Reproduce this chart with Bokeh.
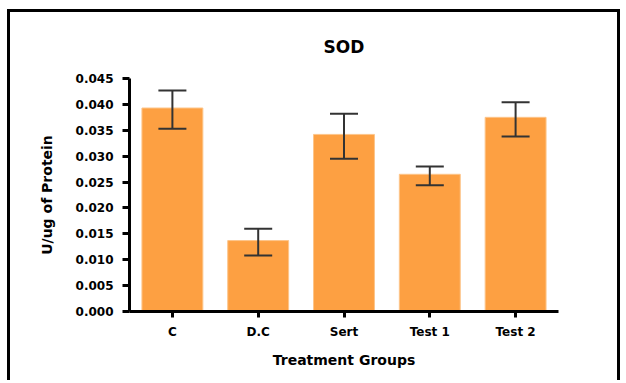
from bokeh.plotting import figure
from bokeh.models import (ColumnDataSource, FactorRange, FixedTicker,
                          NumeralTickFormatter, Whisker, TeeHead)
from bokeh.embed import file_html
from bokeh.resources import INLINE

# ---- data ----
groups = ["C", "D.C", "Sert", "Test 1", "Test 2"]
means = [0.0393, 0.0137, 0.0342, 0.0265, 0.0375]
err_upper = [0.0427, 0.0160, 0.0382, 0.0280, 0.0404]
err_lower = [0.0353, 0.0108, 0.0295, 0.0244, 0.0338]
y_ticks = [0.000, 0.005, 0.010, 0.015, 0.020, 0.025, 0.030, 0.035, 0.040, 0.045]

title_text = "SOD"
x_label = "Treatment Groups"
y_label = "U/ug of Protein"

FONT = "DejaVu Sans"
BAR = "#FDA042"

source = ColumnDataSource(dict(groups=groups, means=means,
                               upper=err_upper, lower=err_lower))

p = figure(x_range=FactorRange(*groups), y_range=(0, 0.045),
           width=613, height=371, output_backend="svg",
           toolbar_location=None, title=title_text,
           min_border_left=119, min_border_right=65,
           min_border_top=66, min_border_bottom=72)

p.styles = {"margin-left": "7px", "margin-top": "9px",
            "border-left": "3px solid black", "border-top": "3px solid black",
            "border-right": "3px solid black"}

p.vbar(x="groups", top="means", width=0.71, source=source,
       fill_color=BAR, line_color="#FDC58A", line_width=1)

w = Whisker(base="groups", upper="upper", lower="lower", source=source,
            line_color="#333333", line_width=2, level="overlay",
            upper_head=TeeHead(size=28, line_color="#333333", line_width=2),
            lower_head=TeeHead(size=28, line_color="#333333", line_width=2))
p.add_layout(w)

# title
p.title.align = "center"
p.title.text_font = FONT
p.title.text_font_size = "17px"
p.title.text_font_style = "bold"
p.title.text_color = "black"
p.title.standoff = 44

# grid / outline
p.xgrid.grid_line_color = None
p.ygrid.grid_line_color = None
p.outline_line_color = None
p.background_fill_color = "white"
p.border_fill_color = "white"

# y axis
ya = p.yaxis[0]
ya.ticker = FixedTicker(ticks=y_ticks)
ya.formatter = NumeralTickFormatter(format="0.000")
ya.axis_line_width = 3
ya.axis_line_color = "black"
ya.major_tick_line_width = 3
ya.major_tick_out = 7
ya.major_tick_in = 0
ya.minor_tick_line_color = None
ya.major_label_standoff = 9
ya.major_label_text_font = FONT
ya.major_label_text_font_style = "bold"
ya.major_label_text_font_size = "12px"
ya.major_label_text_color = "black"
ya.axis_label = y_label
ya.axis_label_text_font = FONT
ya.axis_label_text_font_style = "bold"
ya.axis_label_text_font_size = "14px"
ya.axis_label_text_color = "black"
ya.axis_label_standoff = 18

# x axis
xa = p.xaxis[0]
xa.axis_line_width = 3
xa.axis_line_color = "black"
xa.major_tick_line_width = 3
xa.major_tick_out = 6
xa.major_tick_in = 0
xa.minor_tick_line_color = None
xa.major_label_standoff = 7
xa.major_label_text_font = FONT
xa.major_label_text_font_style = "bold"
xa.major_label_text_font_size = "12px"
xa.major_label_text_color = "black"
xa.axis_label = x_label
xa.axis_label_text_font = FONT
xa.axis_label_text_font_style = "bold"
xa.axis_label_text_font_size = "14px"
xa.axis_label_text_color = "black"
xa.axis_label_standoff = 10

open("out.html", "w").write(file_html(p, INLINE))
